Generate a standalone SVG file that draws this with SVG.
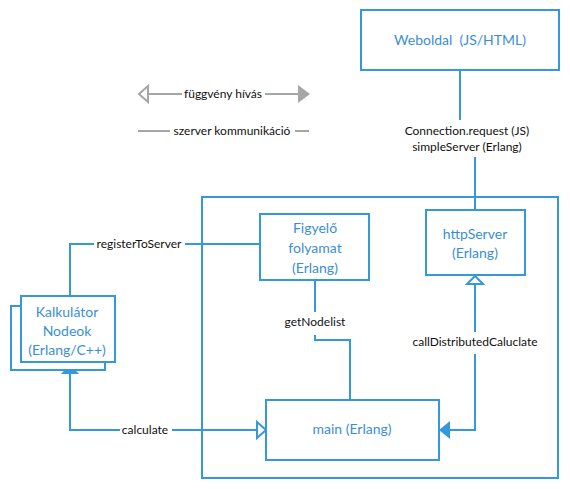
<svg xmlns="http://www.w3.org/2000/svg" width="570" height="489" viewBox="0 0 570 489">
<style>
.box{fill:#ffffff;stroke:#3498db;stroke-width:2}
.cont{fill:none;stroke:#3498db;stroke-width:2}
.ln{fill:none;stroke:#3498db;stroke-width:2}
.gl{fill:none;stroke:#a6a6a6;stroke-width:2}
.nt{font-family:Lato,"Liberation Sans",sans-serif;font-size:14px;fill:#3a8fd3;text-anchor:middle}
.lb{font-family:Lato,"Liberation Sans",sans-serif;font-size:12px;fill:#111111;text-anchor:middle}
</style>
<rect width="570" height="489" fill="#ffffff"/>
<g id="legend">
<path class="gl" d="M148 94H182M265 94H298"/>
<polygon points="139,94 148,86 148,102" fill="#ffffff" stroke="#a6a6a6" stroke-width="2"/>
<polygon points="310,94 298,85 298,103" fill="#a6a6a6"/>
<text class="lb" x="223" y="98">függvény hívás</text>
<path class="gl" d="M138 131H170M295 131H309"/>
<text class="lb" x="232" y="135">szerver kommunikáció</text>
</g>
<g id="container">
<rect class="cont" x="202" y="197" width="356" height="281"/>
</g>
<g id="connectors">
<path class="ln" d="M460 70V120M475 157V210"/>
<text class="lb" x="467" y="135">Connection.request (JS)</text>
<text class="lb" x="467" y="151">simpleServer (Erlang)</text>
<path class="ln" d="M70 296V244H94M185 244H260"/>
<text class="lb" x="139" y="248">registerToServer</text>
<path class="ln" d="M315 280V312M315 335V340H350V400"/>
<text class="lb" x="315" y="326">getNodelist</text>
<path class="ln" d="M475 284V332M475 354V430H450"/>
<polygon points="475,276 467,284 483,284" fill="#ffffff" stroke="#3498db" stroke-width="2"/>
<polygon points="439,430 450,421 450,439" fill="#3498db"/>
<text class="lb" x="475" y="346">callDistributedCaluclate</text>
<path class="ln" d="M70 374V430H120M172 430H257"/>
<polygon points="70,364 61,374 79,374" fill="#3498db"/>
<polygon points="266,430 257,422 257,438" fill="#ffffff" stroke="#3498db" stroke-width="2"/>
<text class="lb" x="145" y="434">calculate</text>
</g>
<g id="weboldal">
<rect class="box" x="361" y="10" width="198" height="60"/>
<text class="nt" x="460" y="45" xml:space="preserve">Weboldal  (JS/HTML)</text>
</g>
<g id="httpServer">
<rect class="box" x="426" y="210" width="99" height="65"/>
<text class="nt" x="475" y="239">httpServer</text>
<text class="nt" x="475" y="258">(Erlang)</text>
</g>
<g id="figyelo">
<rect class="box" x="260" y="214" width="109" height="66"/>
<text class="nt" x="315" y="233">Figyelő</text>
<text class="nt" x="315" y="253">folyamat</text>
<text class="nt" x="315" y="273">(Erlang)</text>
</g>
<g id="kalkulator">
<rect class="box" x="11" y="306" width="94" height="64"/>
<rect class="box" x="21" y="296" width="94" height="66"/>
<text class="nt" x="67" y="317">Kalkulátor</text>
<text class="nt" x="67" y="336">Nodeok</text>
<text class="nt" x="67" y="355">(Erlang/C++)</text>
</g>
<g id="main">
<rect class="box" x="266" y="400" width="173" height="60"/>
<text class="nt" x="352" y="434">main (Erlang)</text>
</g>
</svg>
